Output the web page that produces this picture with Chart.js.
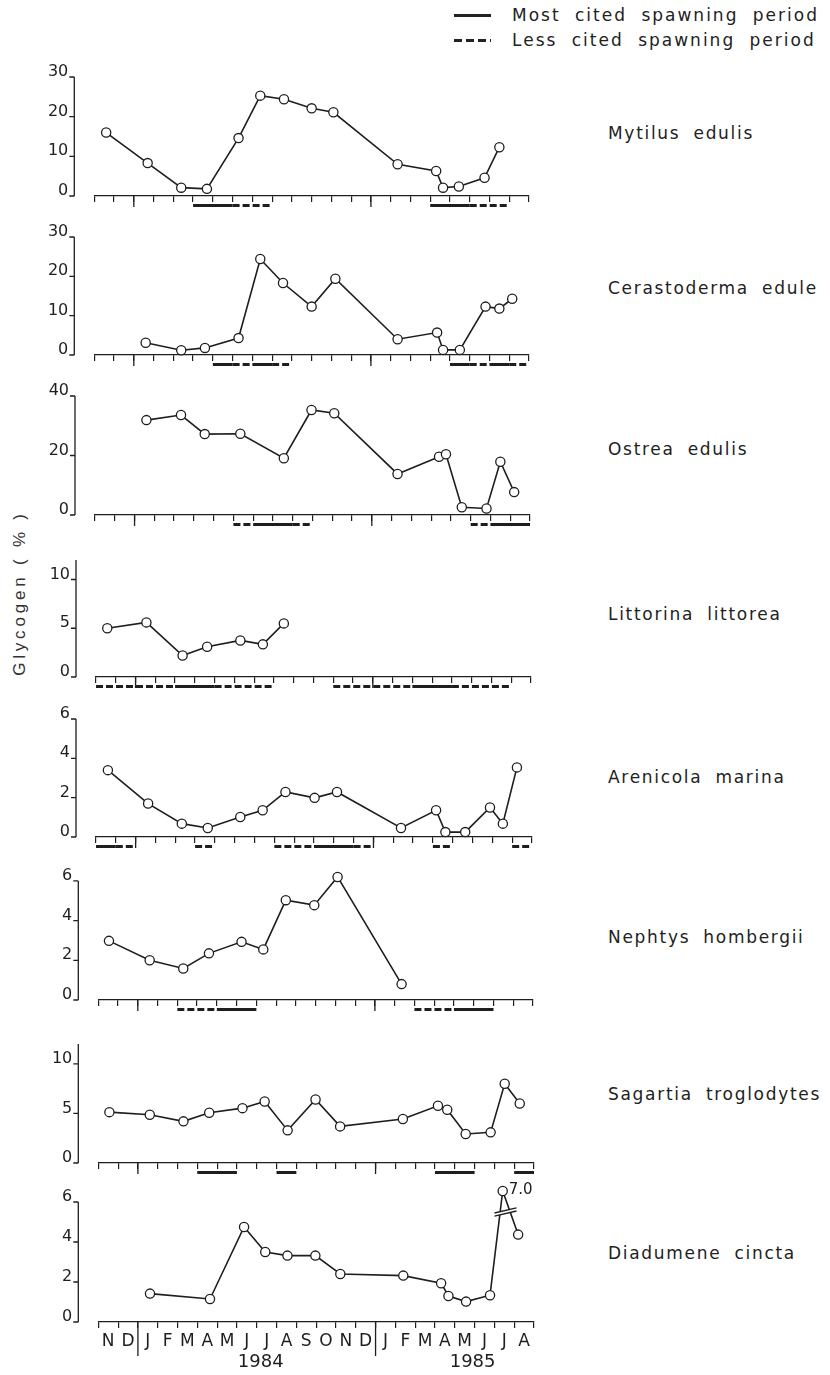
<!DOCTYPE html>
<html>
<head>
<meta charset="utf-8">
<title>Glycogen content</title>
<script src="https://cdn.jsdelivr.net/npm/chart.js@4.4.1/dist/chart.umd.min.js"></script>
<style>
  body { margin: 0; background: #fff; }
  #page { position: relative; width: 830px; height: 1375px; background: #fff; overflow: hidden;
          font-family: "DejaVu Sans", sans-serif; color: #222; }
  #page canvas { position: absolute; left: 0; }
  .name { position: absolute; left: 608px; font-size: 17px; line-height: 20px; letter-spacing: 1.7px;
          word-spacing: 6px; white-space: nowrap; }
  .legend { position: absolute; left: 512px; font-size: 17px; line-height: 20px; letter-spacing: 2px;
            word-spacing: 7px; white-space: nowrap; }
  .sample { position: absolute; left: 454px; width: 37px; height: 2.5px; background: #222; }
  .sample.dash { background: repeating-linear-gradient(90deg, #222 0 8px, transparent 8px 12px); }
  #ylabel { position: absolute; left: 20px; top: 593px; transform: translate(-50%, -50%) rotate(-90deg);
            font-family: "Liberation Sans", sans-serif; font-size: 17px; letter-spacing: 3.8px;
            white-space: nowrap; color: #333; }
</style>
</head>
<body>
<div id="page">
  <div class="sample" style="top:14px"></div>
  <div class="legend" style="top:5px">Most cited spawning period</div>
  <div class="sample dash" style="top:39px"></div>
  <div class="legend" style="top:30px">Less cited spawning period</div>
  <div id="ylabel">Glycogen ( % )</div>
</div>
<script>
const ink = '#1e1e1e';

// x axis: months from Nov 1983 (0) to end of Aug 1985 (22)
const months = ['N','D','J','F','M','A','M','J','J','A','S','O','N','D','J','F','M','A','M','J','J','A'];
const years = ['1984', '1985'];
const yearPos = [8.2, 18.9];
const yearBreaks = [2, 14];

const ticks30 = [0, 10, 20, 30];
const ticks40 = [0, 20, 40];
const ticks10 = [0, 5, 10];
const ticks6 = [0, 2, 4, 6];

const mytilusMonth = [0.6, 2.7, 4.4, 5.7, 7.3, 8.4, 9.6, 11.0, 12.1, 15.35, 17.3, 17.65, 18.45, 19.75, 20.5];
const mytilusGlycogen = [16.0, 8.3, 2.1, 1.8, 14.6, 25.3, 24.4, 22.1, 21.1, 8.0, 6.3, 2.1, 2.4, 4.6, 12.3];
const mytilusSpawn = [[5, 7, 'most'], [7, 9, 'less'], [17, 19, 'most'], [19, 21, 'less']];

const cerastodermaMonth = [2.6, 4.4, 5.6, 7.3, 8.4, 9.55, 11.0, 12.2, 15.35, 17.35, 17.65, 18.5, 19.8, 20.5, 21.15];
const cerastodermaGlycogen = [3.1, 1.2, 1.8, 4.3, 24.4, 18.3, 12.3, 19.4, 4.0, 5.7, 1.3, 1.3, 12.3, 11.8, 14.3];
const cerastodermaSpawn = [[6, 7, 'most'], [7, 8, 'less'], [8, 9, 'most'], [9, 10, 'less'],
                           [18, 19, 'most'], [19, 20, 'less'], [20, 21, 'most'], [21, 22, 'less']];

const ostreaMonth = [2.6, 4.35, 5.55, 7.35, 9.55, 10.95, 12.1, 15.3, 17.4, 17.75, 18.55, 19.8, 20.5, 21.2];
const ostreaGlycogen = [31.9, 33.6, 27.2, 27.3, 19.1, 35.3, 34.2, 13.8, 19.6, 20.4, 2.6, 2.2, 17.9, 7.7];
const ostreaSpawn = [[7, 8, 'less'], [8, 10, 'most'], [10, 11, 'less'], [19, 20, 'less'], [20, 22, 'most']];

const littorinaMonth = [0.57, 2.55, 4.38, 5.62, 7.3, 8.44, 9.5];
const littorinaGlycogen = [5.0, 5.6, 2.2, 3.1, 3.75, 3.35, 5.5];
const littorinaSpawn = [[0, 4, 'less'], [4, 6, 'most'], [6, 9, 'less'], [12, 16, 'less'], [16, 18, 'most'], [18, 21, 'less']];

const arenicolaMonth = [0.6, 2.63, 4.33, 5.64, 7.28, 8.41, 9.56, 11.03, 12.16, 15.39, 17.16, 17.63, 18.63, 19.88, 20.53, 21.24];
const arenicolaGlycogen = [3.4, 1.7, 0.68, 0.46, 1.02, 1.36, 2.29, 1.99, 2.29, 0.46, 1.36, 0.25, 0.25, 1.5, 0.68, 3.54];
const arenicolaSpawn = [[0, 1, 'most'], [1, 2, 'less'], [5, 6, 'less'], [9, 11, 'less'], [11, 13, 'most'],
                        [13, 14, 'less'], [17, 18, 'less'], [21, 22, 'less']];

const nephtysMonth = [0.54, 2.6, 4.3, 5.6, 7.25, 8.35, 9.49, 10.93, 12.11, 15.35];
const nephtysGlycogen = [2.98, 2.0, 1.59, 2.35, 2.93, 2.55, 5.03, 4.78, 6.2, 0.8];
const nephtysSpawn = [[4, 6, 'less'], [6, 8, 'most'], [16, 18, 'less'], [18, 20, 'most']];

const sagartiaMonth = [0.56, 2.6, 4.3, 5.6, 7.28, 8.4, 9.56, 10.97, 12.21, 15.38, 17.15, 17.62, 18.55, 19.81, 20.52, 21.28];
const sagartiaGlycogen = [5.13, 4.87, 4.2, 5.07, 5.53, 6.2, 3.29, 6.4, 3.69, 4.43, 5.77, 5.37, 2.92, 3.09, 7.99, 6.0];
const sagartiaSpawn = [[5, 7, 'most'], [9, 10, 'most'], [17, 19, 'most'], [21, 22, 'most']];

const diadumeneMonth = [2.61, 5.64, 7.36, 8.43, 9.55, 10.96, 12.22, 15.4, 17.31, 17.68, 18.57, 19.78, 20.42, 21.2];
const diadumeneGlycogen = [1.42, 1.15, 4.75, 3.5, 3.32, 3.32, 2.4, 2.32, 1.94, 1.3, 1.02, 1.34, 7.0, 4.37];
const diadumeneSpawn = [];
// the 7.0 value sits above a broken axis, shown at this height
const diadumeneBreakShown = 6.55;

// layout of each panel (pixels on the page)
const panels = [
  { name: 'Mytilus edulis', month: mytilusMonth, gly: mytilusGlycogen, spawn: mytilusSpawn, max: 30, ticks: ticks30,
    left: 94.3, right: 529, top: 77, zero: 196, nameY: 133 },
  { name: 'Cerastoderma edule', month: cerastodermaMonth, gly: cerastodermaGlycogen, spawn: cerastodermaSpawn, max: 30, ticks: ticks30,
    left: 94.3, right: 529, top: 237.3, zero: 355.7, nameY: 288 },
  { name: 'Ostrea edulis', month: ostreaMonth, gly: ostreaGlycogen, spawn: ostreaSpawn, max: 40, ticks: ticks40,
    left: 95, right: 530, top: 396, zero: 515, nameY: 449 },
  { name: 'Littorina littorea', month: littorinaMonth, gly: littorinaGlycogen, spawn: littorinaSpawn, max: 12, ticks: ticks10,
    left: 96, right: 530.7, top: 560, zero: 676.7, nameY: 614 },
  { name: 'Arenicola marina', month: arenicolaMonth, gly: arenicolaGlycogen, spawn: arenicolaSpawn, max: 6, ticks: ticks6,
    left: 96, right: 531.7, top: 719, zero: 836.7, nameY: 777 },
  { name: 'Nephtys hombergii', month: nephtysMonth, gly: nephtysGlycogen, spawn: nephtysSpawn, max: 6, ticks: ticks6,
    left: 98.3, right: 532.7, top: 880.7, zero: 1000, nameY: 937, scaleMax: 6.5 },
  { name: 'Sagartia troglodytes', month: sagartiaMonth, gly: sagartiaGlycogen, spawn: sagartiaSpawn, max: 12, ticks: ticks10,
    left: 98.3, right: 534, top: 1044, zero: 1162.7, nameY: 1094 },
  { name: 'Diadumene cincta', month: diadumeneMonth, gly: diadumeneGlycogen, spawn: diadumeneSpawn, max: 6, ticks: ticks6,
    left: 98.3, right: 534, top: 1201.7, zero: 1321.7, nameY: 1253, last: true, scaleMax: 7,
    brk: { x: 20.56, y: 5.5, label: '7.0' } }
];

const tickFont = { family: 'DejaVu Sans', size: 16 };

// axis lines, year separators, spawning bars and the axis break
const panelDecor = {
  id: 'panelDecor',
  afterDraw(chart, args, opts) {
    const p = opts.panel;
    const { ctx } = chart;
    const x = chart.scales.x, y = chart.scales.y;
    const y0 = y.getPixelForValue(0);
    ctx.save();
    ctx.strokeStyle = ink;
    ctx.lineWidth = 1.3;
    const ax = x.left - 20;
    ctx.beginPath();
    ctx.moveTo(ax, y0);
    ctx.lineTo(ax, y.getPixelForValue(p.max));
    p.ticks.forEach(v => {
      const py = y.getPixelForValue(v);
      ctx.moveTo(ax - 5, py);
      ctx.lineTo(ax, py);
    });
    yearBreaks.forEach(v => {
      const px = x.getPixelForValue(v);
      ctx.moveTo(px, y0);
      ctx.lineTo(px, y0 + (p.last ? 34 : 11));
    });
    ctx.stroke();

    ctx.lineWidth = 3;
    p.spawn.forEach(([a, b, kind]) => {
      ctx.setLineDash(kind === 'less' ? [7, 3] : []);
      ctx.beginPath();
      ctx.moveTo(x.getPixelForValue(a), y0 + 9.5);
      ctx.lineTo(x.getPixelForValue(b), y0 + 9.5);
      ctx.stroke();
    });
    ctx.setLineDash([]);

    if (p.brk) {
      const bx = x.getPixelForValue(p.brk.x), by = y.getPixelForValue(p.brk.y);
      const dx = 11, dy = 2.6, gap = 1.6;
      ctx.fillStyle = '#fff';
      ctx.beginPath();
      ctx.moveTo(bx - dx, by + dy - gap); ctx.lineTo(bx + dx, by - dy - gap);
      ctx.lineTo(bx + dx, by - dy + gap); ctx.lineTo(bx - dx, by + dy + gap);
      ctx.closePath();
      ctx.fill();
      ctx.lineWidth = 1.3;
      ctx.beginPath();
      ctx.moveTo(bx - dx, by + dy - gap); ctx.lineTo(bx + dx, by - dy - gap);
      ctx.moveTo(bx - dx, by + dy + gap); ctx.lineTo(bx + dx, by - dy + gap);
      ctx.stroke();
      const meta = chart.getDatasetMeta(0);
      const idx = p.gly.findIndex(v => v > diadumeneBreakShown);
      const pt = meta.data[idx];
      ctx.fillStyle = ink;
      ctx.font = '15px "DejaVu Sans"';
      ctx.textBaseline = 'middle';
      ctx.fillText(p.brk.label, pt.x + 6, pt.y - 1);
    }
    ctx.restore();
  }
};

const page = document.getElementById('page');
const monthEdges = months.map((m, i) => i).concat([months.length]);

panels.forEach(p => {
  // the y tick padding is also added above and below the chart area by the layout,
  // so keep at least that much room on both sides
  const padTop = 40, padRight = 40;
  const xHeight = p.last ? 28 : 40;
  const yearHeight = p.last ? 30 : 0;
  const sMax = p.scaleMax || p.max;
  const areaTop = p.zero - (p.zero - p.top) * sMax / p.max;
  const canvas = document.createElement('canvas');
  canvas.width = Math.round(p.right + padRight);
  canvas.height = Math.round(padTop + (p.zero - areaTop) + xHeight + yearHeight);
  canvas.style.top = (areaTop - padTop) + 'px';
  page.appendChild(canvas);

  const name = document.createElement('div');
  name.className = 'name';
  name.style.top = (p.nameY - 10) + 'px';
  name.textContent = p.name;
  page.appendChild(name);

  const shown = p.brk ? p.gly.map(v => Math.min(v, diadumeneBreakShown)) : p.gly;
  const halfMonth = (p.right - p.left) / months.length / 2;

  const scales = {
    x: {
      type: 'linear', position: 'bottom', min: 0, max: months.length, weight: 0,
      afterBuildTicks: s => { s.ticks = monthEdges.map(v => ({ value: v })); },
      afterFit: s => { s.height = xHeight; },
      grid: { drawOnChartArea: false, drawTicks: true, tickLength: 6, color: ink, lineWidth: 1.2 },
      border: { display: true, color: ink, width: 1.3 },
      ticks: { display: !!p.last, autoSkip: false, maxRotation: 0, labelOffset: halfMonth, padding: 3,
               font: { family: 'DejaVu Sans', size: 17 }, color: ink,
               callback: v => months[v] || '' }
    },
    y: {
      type: 'linear', min: 0, max: sMax,
      afterBuildTicks: s => { s.ticks = p.ticks.map(v => ({ value: v })); },
      afterFit: s => { s.width = p.left; },
      grid: { display: false, drawTicks: false },
      border: { display: false },
      ticks: { padding: 26, labelOffset: -5, font: tickFont, color: ink }
    }
  };
  if (p.last) {
    scales.year = {
      type: 'linear', position: 'bottom', min: 0, max: months.length, weight: 1,
      afterBuildTicks: s => { s.ticks = yearPos.map(v => ({ value: v })); },
      afterFit: s => { s.height = yearHeight; },
      grid: { display: false, drawTicks: false },
      border: { display: false },
      ticks: { autoSkip: false, maxRotation: 0, padding: 2, font: { family: 'DejaVu Sans', size: 18 }, color: ink,
               callback: (v, i) => years[i] }
    };
  }

  new Chart(canvas, {
    type: 'line',
    data: {
      datasets: [{
        data: p.month.map((m, i) => ({ x: m, y: shown[i] })),
        borderColor: ink,
        borderWidth: 1.6,
        pointRadius: 4.6,
        pointBorderWidth: 1.3,
        pointBorderColor: ink,
        pointBackgroundColor: '#fff',
        tension: 0,
        clip: false
      }]
    },
    options: {
      responsive: false,
      animation: false,
      events: [],
      layout: { padding: { top: padTop, right: padRight, left: 0, bottom: 0 } },
      plugins: { legend: { display: false }, tooltip: { enabled: false }, panelDecor: { panel: p } },
      scales: scales
    },
    plugins: [panelDecor]
  });
});
</script>
</body>
</html>
